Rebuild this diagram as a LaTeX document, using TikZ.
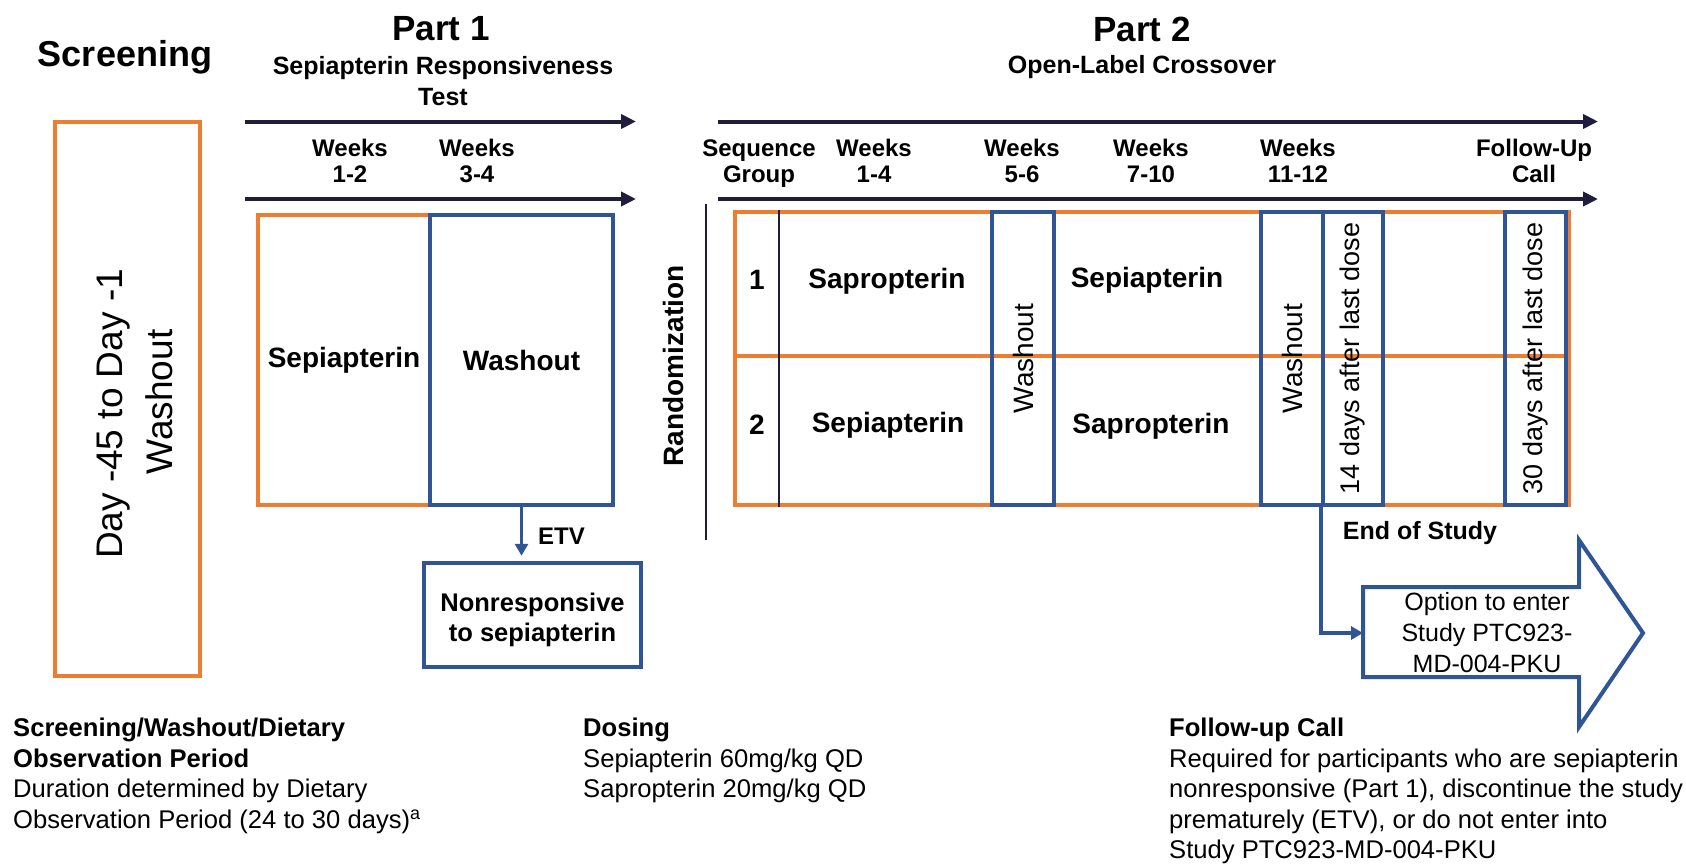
\documentclass[tikz,border=0pt]{standalone}
\usepackage{fontspec}
\setmainfont{Liberation Sans}
\usetikzlibrary{arrows.meta}
\definecolor{orng}{HTML}{ED7D31}
\definecolor{blu}{HTML}{2F5597}
\definecolor{navy}{HTML}{1F1D3B}
\newcommand{\fsz}[2]{\fontsize{#1}{#2}\selectfont}
\begin{document}
\begin{tikzpicture}[x=1pt,y=-1pt,
  obox/.style={draw=orng, line width=4.5pt, inner sep=0pt},
  bbox/.style={draw=blu, line width=4.5pt, inner sep=0pt},
  oline/.style={draw=orng, line width=4.5pt},
  tline/.style={draw=navy, line width=4pt, -{Triangle[length=15pt,width=14pt]}},
  dline/.style={draw=navy, line width=2.5pt},
  barrow/.style={draw=blu, line width=3.5pt, -{Triangle[length=12pt,width=13pt]}},
  hd/.style={font=\bfseries\fsz{24}{26}, align=center, inner sep=0pt},
  big/.style={font=\bfseries\fsz{28}{32}, align=center, inner sep=0pt},
  rot/.style={font=\fsz{28}{32}, rotate=90, inner sep=0pt},
  rotsm/.style={font=\fsz{27}{30}, rotate=90, inner sep=0pt},
  foot/.style={font=\fsz{25.6}{30.5}, align=left, inner sep=0pt, anchor=north west}
]
\useasboundingbox (0,0) rectangle (1686,863);
\fill[white] (0,0) rectangle (1686,863);

% ---------- Screening ----------
\node[font=\bfseries\fsz{36}{40}, inner sep=0pt] (screening) at (125,57) {Screening};
\node[obox, minimum width=145pt, minimum height=554pt] (scrbox) at (127.5,399) {};
\node[font=\fsz{37}{50}, align=center, rotate=90, inner sep=0pt] (scrtext) at (135,402) {Day -45 to Day -1\hspace*{24pt}\\Washout};

% ---------- Part 1 ----------
\node[font=\bfseries\fsz{35}{40}, inner sep=0pt] (part1) at (441,29) {Part 1};
\node[font=\bfseries\fsz{25}{31}, align=center, inner sep=0pt] (p1sub) at (443,81) {Sepiapterin Responsiveness\\Test};
\coordinate (a1s) at (245,121.5);
\coordinate (a1e) at (636,121.5);
\coordinate (a2s) at (245,199);
\coordinate (a2e) at (636,199);
\draw[tline] (a1s) -- (a1e);
\draw[tline] (a2s) -- (a2e);
\node[hd] (w12) at (350,161) {Weeks\\1-2};
\node[hd] (w34) at (477,161) {Weeks\\3-4};

\node[obox, minimum width=172pt, minimum height=290pt] (p1sep) at (344,360) {};
\node[bbox, minimum width=183pt, minimum height=290pt] (p1wash) at (521.5,360) {};
\node[big] (p1septxt) at (p1sep.center) {Sepiapterin};
\node[big] (p1washtxt) at (p1wash.center) {Washout};

\node[bbox, minimum width=217pt, minimum height=104pt] (nonresp) at (532.5,615) {};
\node[font=\bfseries\fsz{25.5}{30}, align=center, inner sep=0pt] (nonresptxt) at (532.5,620) {Nonresponsive\\to sepiapterin};
\draw[barrow, shorten >=5pt] (p1wash.south) -- (p1wash.south |- nonresp.north);
\node[font=\bfseries\fsz{24}{28}, anchor=west, inner sep=0pt] (etv) at (538,536) {ETV};

% ---------- Randomization ----------
\node[font=\bfseries\fsz{28}{32}, rotate=90, inner sep=0pt] (rand) at (673,366) {Randomization};
\coordinate (rtop) at (706,204);
\coordinate (rbot) at (706,540);
\draw[dline] (rtop) -- (rbot);

% ---------- Part 2 ----------
\node[font=\bfseries\fsz{35}{40}, inner sep=0pt] (part2) at (1142,29) {Part 2};
\node[font=\bfseries\fsz{25}{31}, inner sep=0pt] (p2sub) at (1142,67) {Open-Label Crossover};
\coordinate (b1s) at (718,121.5);
\coordinate (b1e) at (1598,121.5);
\coordinate (b2s) at (718,199);
\coordinate (b2e) at (1598,199);
\draw[tline] (b1s) -- (b1e);
\draw[tline] (b2s) -- (b2e);
\node[hd] (hseq) at (759,164) {Sequence\\Group};
\node[hd] (h14) at (874,161) {Weeks\\1-4};
\node[hd] (h56) at (1022,161) {Weeks\\5-6};
\node[hd] (h710) at (1151,161) {Weeks\\7-10};
\node[hd] (h1112) at (1298,161) {Weeks\\11-12};
\node[hd] (hfu) at (1534,161) {Follow-Up\\Call};

\node[obox, minimum width=834pt, minimum height=293pt] (p2box) at (1152,358.5) {};
\coordinate (midy) at (0,356);
\draw[oline] (p2box.west |- midy) -- (p2box.east |- midy);
\coordinate (sx) at (779,0);
\draw[dline] (p2box.north -| sx) -- (p2box.south -| sx);

\node[bbox, minimum width=62pt, minimum height=293pt] (w1) at (1023,358.5) {};
\node[bbox, minimum width=62pt, minimum height=293pt] (w2) at (1292,358.5) {};
\node[bbox, minimum width=60pt, minimum height=293pt] (d14) at (1353,358.5) {};
\node[bbox, minimum width=61pt, minimum height=293pt] (d30) at (1535.5,358.5) {};
\node[rot] (w1t) at (w1.center) {Washout};
\node[rot] (w2t) at (w2.center) {Washout};
\node[rotsm] (d14t) at (d14.center) {14 days after last dose};
\node[rotsm] (d30t) at (d30.center) {30 days after last dose};

\node[big] (g1) at (757,280) {1};
\node[big] (g2) at (757,425) {2};
\node[big] (r1a) at (887,281) {Sapropterin};
\node[big] (r2a) at (888,425) {Sepiapterin};
\node[big] (r1b) at (1147,280) {Sepiapterin};
\node[big] (r2b) at (1151,426) {Sapropterin};

\node[font=\bfseries\fsz{25}{30}, inner sep=0pt] (eos) at (1420,533) {End of Study};

% big arrow
\draw[draw=blu, line width=4pt, fill=white, line join=miter]
  (1363,587) -- (1579,587) -- (1579,540) -- (1643,633) -- (1579,727) -- (1579,677) -- (1363,677) -- cycle;
\coordinate (optin) at (1363,633);
\node[font=\fsz{25}{31}, align=center, inner sep=0pt] (opt) at (1487,633) {Option to enter\\Study PTC923-\\MD-004-PKU};
\draw[barrow] (d14.south west) |- (optin);

% ---------- Footnotes ----------
\node[foot] (fscr) at (13,718) {{\bfseries Screening/Washout/Dietary}\\{\bfseries Observation Period}\\Duration determined by Dietary\\Observation Period (24 to 30 days)\textsuperscript{a}};
\node[foot] (fdose) at (583,718) {{\bfseries Dosing}\\Sepiapterin 60mg/kg QD\\Sapropterin 20mg/kg QD};
\node[foot] (ffu) at (1169,718) {{\bfseries Follow-up Call}\\Required for participants who are sepiapterin\\nonresponsive (Part 1), discontinue the study\\prematurely (ETV), or do not enter into\\Study PTC923-MD-004-PKU};
\end{tikzpicture}
\end{document}
